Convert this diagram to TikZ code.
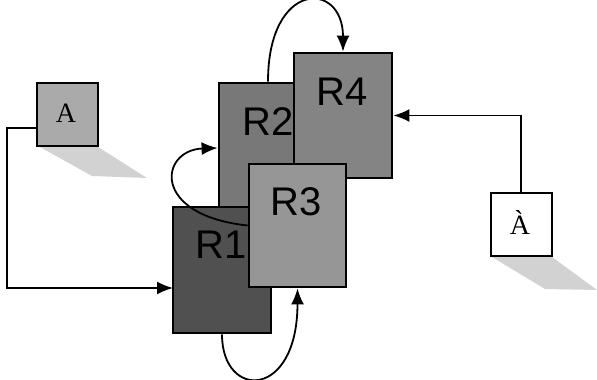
\documentclass[tikz,border=0pt]{standalone}
\usepackage{fontspec}
\setmainfont{Liberation Serif}
\newfontfamily\regfont{Liberation Sans}
\usetikzlibrary{calc,positioning,arrows.meta}
\definecolor{RegDark}{RGB}{80,80,80}
\definecolor{RegMid}{RGB}{120,120,120}
\definecolor{RegSoft}{RGB}{132,132,132}
\definecolor{RegLight}{RGB}{150,150,150}
\definecolor{SrcGray}{RGB}{170,170,170}
\definecolor{ShadowGray}{RGB}{210,210,210}

\tikzset{
  regbox/.style={draw=black,line width=2.8pt,inner sep=0pt},
  reglabel/.style={font=\regfont\fontsize{40}{40}\selectfont,inner sep=0pt},
  srcbox/.style={draw=black,line width=2pt,inner sep=0pt,minimum width=61pt,minimum height=63pt},
  srclabel/.style={font=\fontsize{28}{28}\selectfont,inner sep=0pt},
  link/.style={line width=1.8pt,-{Latex[length=16pt,width=13pt]}}
}

\begin{document}
\begin{tikzpicture}[x=1pt,y=-1pt]
        \useasboundingbox (0,0) rectangle (597,380);

        % shadows
        \fill[ShadowGray] (40,147) -- (98,147) -- (147,178) -- (92,176) -- cycle;
        \fill[ShadowGray] (492,257) -- (552,257) -- (597,290) -- (545,289) -- cycle;

        % source boxes
        \node[srcbox,fill=SrcGray] (a) at (67,114) {};
        \node[srclabel] (atxt) at (66,113) {A};
        \node[srcbox,fill=white] (aa) at (521,224.5) {};
        \node[srclabel] (aatxt) at (520,222) {\`A};

        % registers, back to front
        \node[regbox,fill=RegMid,minimum width=98pt,minimum height=130pt] (r2) at (268,148) {};
        \node[reglabel] (r2txt) at (268,122) {R2};
        \node[regbox,fill=RegSoft,minimum width=98pt,minimum height=125pt] (r4) at (343,115.5) {};
        \node[reglabel] (r4txt) at (342,92) {R4};
        \node[regbox,fill=RegDark,minimum width=98pt,minimum height=126pt] (r1) at (222,270) {};
        \node[reglabel] (r1txt) at (221,245) {R1};
        \node[regbox,fill=RegLight,minimum width=97pt,minimum height=123pt] (r3) at (297.5,225.5) {};
        \node[reglabel] (r3txt) at (296,202) {R3};

        \coordinate (aout) at (36,128);
        \coordinate (r1in) at (173,288);

        % connectors
        \draw[link] (aout) -- ++(-29,0) |- (r1in);
        \draw[link] (aa.north) |- (r4.east);
        \draw[link] (r2.north) .. controls (268,-20) and (343,-20) .. (r4.north);
        \draw[link] (r3.west) .. controls (150,215) and (160,150) .. (r2.west);
        \draw[link] (r1.south) .. controls (222,400) and (297.5,400) .. (r3.south);
      \end{tikzpicture}
\end{document}
